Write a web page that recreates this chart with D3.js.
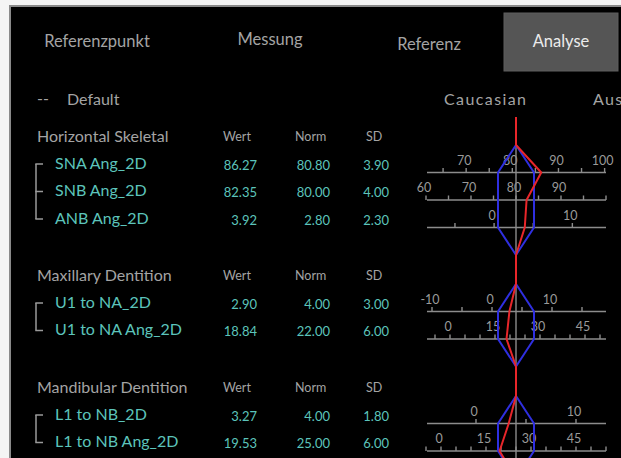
<!DOCTYPE html>
<html>
<head>
<meta charset="utf-8">
<script src="https://cdn.jsdelivr.net/npm/d3@7/dist/d3.min.js"></script>
<style>
  html, body { margin: 0; padding: 0; background: #f4f4f4; }
  svg { display: block; }
  text { font-family: Lato, "Open Sans", sans-serif; }
</style>
</head>
<body>
<svg id="chart" width="621" height="458"></svg>
<script>
// ---------- data ----------
const tabs = ["Referenzpunkt", "Messung", "Referenz", "Analyse"];
const groupNames = ["Caucasian", "Aus"];
const defaultLabel = "Default";
const sections = ["Horizontal Skeletal", "Maxillary Dentition", "Mandibular Dentition"];
const columnHeaders = ["Wert", "Norm", "SD"];
const measures = ["SNA Ang_2D", "SNB Ang_2D", "ANB Ang_2D", "U1 to NA_2D", "U1 to NA Ang_2D", "L1 to NB_2D", "L1 to NB Ang_2D"];
const sectionOf = [0, 0, 0, 1, 1, 2, 2];
const wert = [86.27, 82.35, 3.92, 2.90, 18.84, 3.27, 19.53];
const norm = [80.80, 80.00, 2.80, 4.00, 22.00, 4.00, 25.00];
const sd   = [3.90, 4.00, 2.30, 3.00, 6.00, 1.80, 6.00];
const tickLabels = [[70, 80, 90, 100], [60, 70, 80, 90], [0, 10], [-10, 0, 10], [0, 15, 30, 45], [0, 10], [0, 15, 30, 45]];
const minorStep = 5;

// ---------- layout ----------
const W = 621, H = 458;
const cx = 516, sdPx = 18;
const axisX0 = 427, axisX1 = 606;
const sectionTop = [145, 284, 396];
const rowStep = 27.5;
const colX = [257, 330, 389];      // right edges of value columns
const headX = [223, 295, 366];     // left edges of column headers
const C = { grey: "#a4a4a4", teal: "#5cc4bb", axis: "#8c8c8c", blue: "#2f2fe0", red: "#e8262a" };

const svg = d3.select("#chart");
const clip = svg.append("defs").append("clipPath").attr("id", "panel");
clip.append("rect").attr("x", 11).attr("y", 7).attr("width", W - 11).attr("height", H - 7);

// panel
svg.append("rect").attr("x", 10).attr("y", 6).attr("width", W).attr("height", H)
  .attr("fill", "#000").attr("stroke", "#8a8a8a").attr("stroke-width", 2);

const g = svg.append("g").attr("clip-path", "url(#panel)");

// tabs
const tabX = [97, 270, 429, 561];
const tabY = [47, 45, 50, 47];
g.append("rect").attr("x", 504).attr("y", 13).attr("width", 114).attr("height", 58)
  .attr("fill", "#555555").attr("stroke", "#5e5e5e");
g.selectAll("text.tab").data(tabs).join("text").attr("class", "tab")
  .attr("x", (d, i) => tabX[i]).attr("y", (d, i) => tabY[i])
  .attr("text-anchor", "middle").attr("font-size", 16.5)
  .attr("fill", (d, i) => i === 3 ? "#ececec" : C.grey).text(d => d);

// default row
g.append("text").attr("x", 37).attr("y", 104).attr("font-size", 16).attr("fill", C.grey).text("--");
g.append("text").attr("x", 67).attr("y", 105).attr("font-size", 16).attr("fill", C.grey).text(defaultLabel);
g.selectAll("text.grp").data(groupNames).join("text").attr("class", "grp")
  .attr("x", (d, i) => [444, 593][i]).attr("y", 105).attr("font-size", 16)
  .attr("letter-spacing", 1.4).attr("fill", C.grey).text(d => d);

// row geometry
const rowIndexInSection = measures.map((m, i) => sectionOf.slice(0, i).filter(s => s === sectionOf[i]).length);
const rowY = measures.map((m, i) => sectionTop[sectionOf[i]] + rowStep * (rowIndexInSection[i] + 1));
const sectionRows = sections.map((s, k) => measures.map((m, i) => i).filter(i => sectionOf[i] === k));
const sectionBottom = sections.map((s, k) => sectionTop[k] + rowStep * (sectionRows[k].length + 1));
const scales = measures.map((m, i) => d3.scaleLinear().domain([norm[i] - sd[i], norm[i] + sd[i]]).range([cx - sdPx, cx + sdPx]));

// section headers
sections.forEach((s, k) => {
  const y = sectionTop[k] - 3;
  g.append("text").attr("x", 37).attr("y", y).attr("font-size", 16).attr("fill", C.grey).text(s);
  columnHeaders.forEach((h, j) => {
    g.append("text").attr("x", headX[j]).attr("y", y - 1).attr("font-size", 12.5).attr("fill", C.grey).text(h);
  });
  // bracket
  const rows = sectionRows[k];
  const y0 = rowY[rows[0]] - 8.5, y1 = rowY[rows[rows.length - 1]] - 8.5;
  g.append("line").attr("x1", 36).attr("x2", 36).attr("y1", y0).attr("y2", y1)
    .attr("stroke", "#9a9a9a").attr("stroke-width", 1.5);
  rows.forEach(i => {
    g.append("line").attr("x1", 35.3).attr("x2", 43).attr("y1", rowY[i] - 8.5).attr("y2", rowY[i] - 8.5)
      .attr("stroke", "#9a9a9a").attr("stroke-width", 1.5);
  });
});

// measurement rows
measures.forEach((m, i) => {
  const y = rowY[i];
  g.append("text").attr("x", 55).attr("y", y - 4).attr("font-size", 16).attr("fill", C.teal).text(m);
  [wert[i], norm[i], sd[i]].forEach((v, j) => {
    g.append("text").attr("x", colX[j]).attr("y", y - 3).attr("text-anchor", "end")
      .attr("font-size", 13).attr("fill", C.teal).text(v.toFixed(2));
  });
  // axis
  const sc = scales[i];
  const ax = g.append("g");
  ax.append("line").attr("x1", axisX0).attr("x2", axisX1).attr("y1", y).attr("y2", y)
    .attr("stroke", C.axis).attr("stroke-width", 1.6);
  const lo = Math.ceil(sc.invert(axisX0 - 1) / minorStep) * minorStep;
  const hi = sc.invert(axisX1 + 1);
  const ticks = d3.range(lo, hi, minorStep);
  ax.selectAll("line.t").data(ticks).join("line").attr("class", "t")
    .attr("x1", d => sc(d)).attr("x2", d => sc(d)).attr("y1", y).attr("y2", y - 4.5)
    .attr("stroke", C.axis).attr("stroke-width", 1.4);
  ax.selectAll("text").data(tickLabels[i]).join("text")
    .attr("x", d => sc(d) - 2).attr("y", y - 8).attr("text-anchor", "middle")
    .attr("font-size", 12.5).attr("fill", "#9a9a9a").text(d => d);
});

// center lines
sections.forEach((s, k) => {
  g.append("line").attr("x1", cx).attr("x2", cx).attr("y1", sectionTop[k]).attr("y2", sectionBottom[k])
    .attr("stroke", C.axis).attr("stroke-width", 1.4);
});

// blue norm band (±1 SD)
const lineGen = d3.line().x(d => d[0]).y(d => d[1]);
sections.forEach((s, k) => {
  const rows = sectionRows[k];
  const pts = [[cx, sectionTop[k]]];
  rows.forEach(i => pts.push([scales[i](norm[i] - sd[i]), rowY[i]]));
  pts.push([cx, sectionBottom[k]]);
  rows.slice().reverse().forEach(i => pts.push([scales[i](norm[i] + sd[i]), rowY[i]]));
  pts.push([cx, sectionTop[k]]);
  g.append("path").attr("d", lineGen(pts)).attr("fill", "none")
    .attr("stroke", C.blue).attr("stroke-width", 2).attr("stroke-linejoin", "round");
});

// red measured profile
const redPts = [[cx, 117]];
sections.forEach((s, k) => {
  redPts.push([cx, sectionTop[k]]);
  sectionRows[k].forEach(i => redPts.push([scales[i](wert[i]), rowY[i]]));
  redPts.push([cx, sectionBottom[k]]);
});
g.append("path").attr("d", lineGen(redPts)).attr("fill", "none")
  .attr("stroke", C.red).attr("stroke-width", 2).attr("stroke-linejoin", "round");
</script>
</body>
</html>
